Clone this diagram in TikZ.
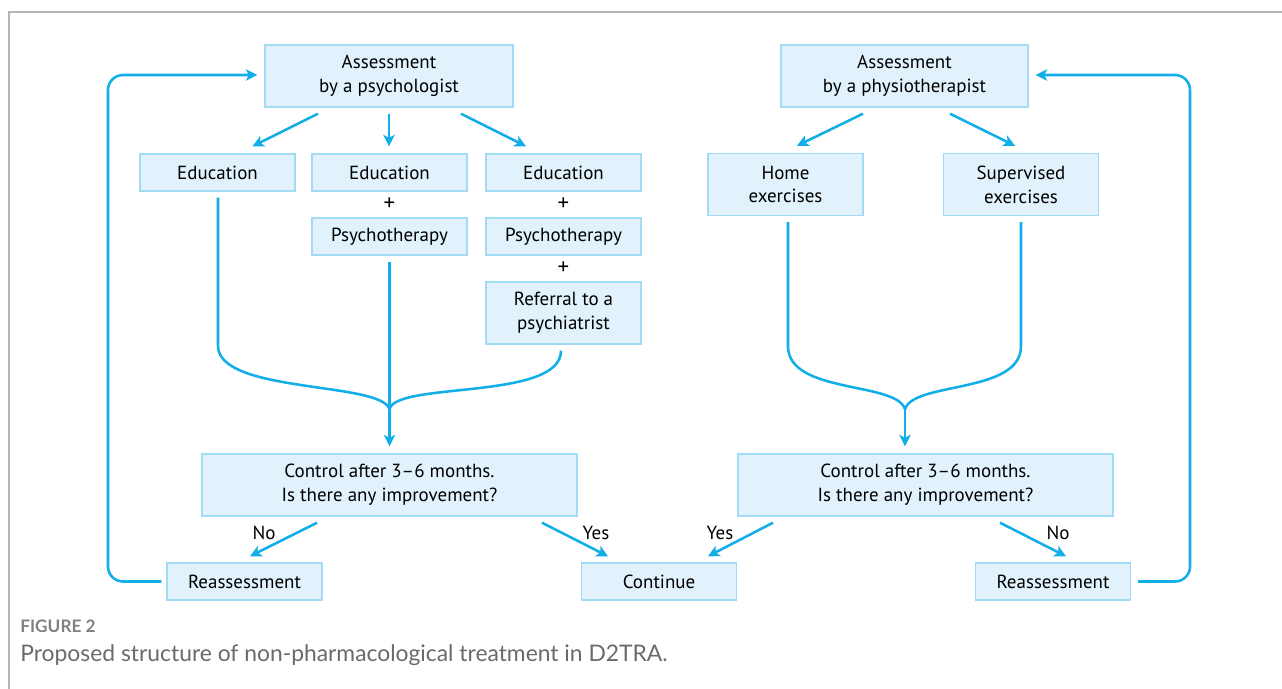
\documentclass[tikz,border=0pt]{standalone}
\usepackage{fontspec}
\setmainfont{PT Sans}
\newfontfamily\capfont{Lato}
\usetikzlibrary{arrows.meta,calc}

\definecolor{flowblue}{HTML}{11AEE8}
\definecolor{boxfill}{HTML}{E1F2FC}
\definecolor{boxline}{HTML}{A3DAF5}
\definecolor{framegray}{HTML}{B4B4B4}
\definecolor{capgray}{HTML}{6A6A6A}

\tikzset{
  box/.style = {draw=boxline, fill=boxfill, line width=0.8pt, align=center,
                minimum width=3.1cm, minimum height=0.74cm, inner sep=0pt,
                font=\fontsize{10.8}{13.6}\selectfont},
  tallbox/.style = {box, minimum height=1.24cm},
  widebox/.style = {tallbox, minimum width=7.5cm},
  flow/.style = {draw=flowblue, line width=1.45pt},
  lbl/.style = {font=\fontsize{10.8}{13}\selectfont, inner sep=0pt},
  plus/.style = {font=\fontsize{13}{13}\selectfont, inner sep=0pt}
}

\begin{document}
\begin{tikzpicture}[x=0.02cm, y=-0.02cm,
  >={Stealth[length=0.23cm,width=0.23cm,inset=0.06cm]}]
\useasboundingbox (0,0) rectangle (1282,689);
\draw[framegray, line width=0.7pt] (1282,12) -- (9,12) -- (9,689);

% psychologist branch
\node[tallbox, minimum width=4.96cm] (psy) at (389,76) {Assessment\\by a psychologist};
\node[box] (edu1) at (217.5,172.5) {Education};
\node[box] (edu2) at (389.5,172.5) {Education};
\node[box] (edu3) at (563.5,172.5) {Education};
\node[plus] (plus2) at (389.5,204) {+};
\node[plus] (plus3) at (563.5,204) {+};
\node[box] (pst2) at (389.5,236.5) {Psychotherapy};
\node[box] (pst3) at (563.5,236.5) {Psychotherapy};
\node[plus] (plus4) at (563.5,268) {+};
\node[tallbox] (ref3) at (563.5,313) {Referral to a\\psychiatrist};
\node[widebox] (ctl1) at (389.5,485) {Control after 3--6 months.\\Is there any improvement?};
\node[box] (re1) at (244.5,581.5) {Reassessment};
\node[box] (cont) at (659,581.5) {Continue};

% physiotherapist branch
\node[tallbox, minimum width=4.94cm] (phy) at (904.5,76) {Assessment\\by a physiotherapist};
\node[tallbox] (home) at (785.5,184.5) {Home\\exercises};
\node[tallbox] (sup) at (1021,184.5) {Supervised\\exercises};
\node[widebox] (ctl2) at (925.5,485) {Control after 3--6 months.\\Is there any improvement?};
\node[box] (re2) at (1053,581.5) {Reassessment};

% arrows out of the assessments
\draw[flow,->] ($(psy.south)+(-71,6)$) -- ($(edu1.north)+(35,-7)$);
\draw[flow,->] ($(psy.south)+(0,6)$) -- ($(edu2.north)+(-0.5,-7)$);
\draw[flow,->] ($(psy.south)+(72,6)$) -- ($(edu3.north)+(-37.5,-7)$);
\draw[flow,->] ($(phy.south)+(-41.5,6)$) -- ($(home.north)+(11.5,-7)$);
\draw[flow,->] ($(phy.south)+(45.5,6)$) -- ($(sup.north)+(-6,-7)$);

% merging into the controls
\coordinate (j1) at ($(ctl1.north)+(0,-44)$);
\coordinate (j2) at ($(ctl2.north)+(-20.5,-44)$);
\draw[flow,->] ($(pst2.south)+(0,6)$) -- ($(ctl1.north)+(0,-7)$);
\draw[flow] ($(edu1.south)+(0.5,6)$) -- ++(0,148)
  .. controls +(0,48) and +(-8,-28) .. (j1);
\draw[flow] ($(ref3.south)+(-2.5,6)$)
  .. controls +(0,50) and +(6,-28) .. (j1);
\draw[flow] ($(home.south)+(2.5,6)$) -- ++(0,124)
  .. controls +(0,48) and +(-8,-28) .. (j2);
\draw[flow] ($(sup.south)+(0,6)$) -- ++(0,124)
  .. controls +(0,48) and +(8,-28) .. (j2);
\draw[flow,->] (j2) -- ($(ctl2.north)+(-20.5,-7)$);

% answers
\draw[flow,->] ($(ctl1.south)+(-72.5,6)$) -- ($(re1.north)+(5.5,-6)$);
\draw[flow,->] ($(ctl1.south)+(152.5,6)$) -- ($(cont.north)+(-51,-6)$);
\draw[flow,->] ($(ctl2.south)+(-152.5,6)$) -- ($(cont.north)+(49,-6)$);
\draw[flow,->] ($(ctl2.south)+(74.5,6)$) -- ($(re2.north)+(13,-6)$);
\node[lbl] (no1) at (264,533) {No};
\node[lbl] (yes1) at (596,533) {Yes};
\node[lbl] (yes2) at (720,533) {Yes};
\node[lbl] (no2) at (1058,533) {No};

% loops back to the assessments
\coordinate (loopL) at (108,0);
\coordinate (loopR) at (1190,0);
\draw[flow,->,rounded corners=0.3cm] ($(re1.west)+(-5,0)$) -- (re1.west -| loopL)
  -- ($(psy.west -| loopL)+(0,-1)$) -- ($(psy.west)+(-7,-1)$);
\draw[flow,->,rounded corners=0.3cm] ($(re2.east)+(7,0)$) -- (re2.east -| loopR)
  -- ($(phy.east -| loopR)+(0,-1)$) -- ($(phy.east)+(7,-1)$);

% caption
\node[anchor=base west, inner sep=0pt, text=capgray!85, font=\capfont\bfseries\fontsize{9.8}{11}\selectfont]
  (fig) at (20,632) {FIGURE 2};
\node[anchor=base west, inner sep=0pt, text=capgray, font=\capfont\fontsize{13}{15}\selectfont]
  (cap) at (20,661) {Proposed structure of non-pharmacological treatment in D2TRA.};
\end{tikzpicture}
\end{document}
